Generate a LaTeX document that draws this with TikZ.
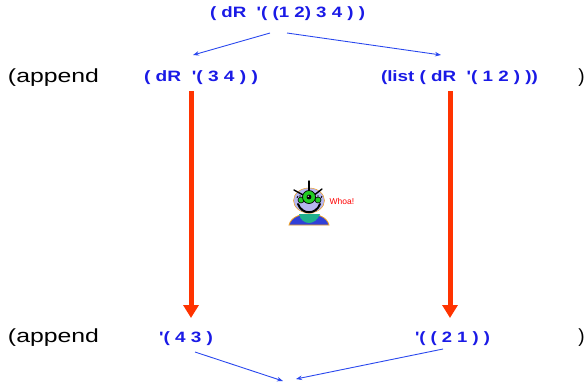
\documentclass[tikz,border=0pt]{standalone}
\usepackage{fontspec}
\setmainfont{Liberation Sans}
\usetikzlibrary{arrows.meta}
\definecolor{codeblue}{HTML}{1A1AE6}
\definecolor{linkblue}{HTML}{2A48EE}
\definecolor{evalred}{HTML}{FF3300}
\definecolor{headlav}{HTML}{B6B6F0}
\definecolor{bodyblue}{HTML}{3040D8}
\definecolor{collar}{HTML}{20B08C}
\definecolor{eyegreen}{HTML}{22CC22}
\definecolor{rim}{HTML}{F0A020}
\newcommand{\fitw}[2]{\resizebox{#1}{\height}{#2}}
\newcommand{\qt}{\textquotesingle}
\begin{document}
\begin{tikzpicture}[x=1pt,y=-1pt,
  code/.style={text=codeblue,font=\bfseries\fontsize{15}{15}\selectfont,inner sep=0pt},
  plain/.style={text=black,font=\fontsize{19}{19}\selectfont,inner sep=0pt},
  link/.style={draw=linkblue,line width=0.9pt,-{Stealth[length=6pt,width=4.5pt]}},
  evalarrow/.style={draw=evalred,line width=5pt,-{Triangle[length=13pt,width=15pt]}},
  exclaim/.style={text=red,font=\fontsize{8.5}{8.5}\selectfont,inner sep=0pt}]
\useasboundingbox (0,0) rectangle (588,384);

% expression rows
\node[code] (top) at (287.5,14) {\fitw{155pt}{( dR \ \qt( (1 2) 3 4 ) )}};

\node[plain] (app1) at (53.5,78) {\fitw{91pt}{(append}};
\node[code] (cdr34) at (201,78) {\fitw{114pt}{( dR \ \qt( 3 4 ) )}};
\node[code] (list12) at (459.5,78) {\fitw{157pt}{(list ( dR \ \qt( 1 2 ) ))}};
\node[plain] (close1) at (581.5,78) {)};

\node[plain] (app2) at (53.5,338) {\fitw{91pt}{(append}};
\node[code] (r43) at (186,339) {\fitw{54pt}{\qt( 4 3 )}};
\node[code] (r21) at (452.5,339) {\fitw{75pt}{\qt( ( 2 1 ) )}};
\node[plain] (close2) at (581.5,338) {)};

% connector end points
\coordinate (splitL) at (270,33);
\coordinate (splitR) at (287,33);
\coordinate (intoL) at (193,55);
\coordinate (intoR) at (441,55);
\coordinate (evalLa) at (191,91);
\coordinate (evalLb) at (191,318);
\coordinate (evalRa) at (450,91);
\coordinate (evalRb) at (450,318);
\coordinate (outL) at (195,352);
\coordinate (outR) at (443,349);
\coordinate (joinL) at (283,381);
\coordinate (joinR) at (296,379);

\draw[link] (splitL) -- (intoL);
\draw[link] (splitR) -- (intoR);
\draw[evalarrow] (evalLa) -- (evalLb);
\draw[evalarrow] (evalRa) -- (evalRb);
\draw[link] (outL) -- (joinL);
\draw[link] (outR) -- (joinR);

% little cartoon character
\begin{scope}[shift={(309,203)}]
  \fill[bodyblue,draw=rim,line width=0.8pt] (-20,22) .. controls (-18,14) and (-9,11) .. (0,11)
        .. controls (9,11) and (18,14) .. (20,22) -- cycle;
  \fill[collar] (-10,11) -- (11,11) .. controls (9,17) and (4,20) .. (0,20)
        .. controls (-4,20) and (-9,17) .. (-10,11) -- cycle;
  \fill[headlav,draw=rim,line width=0.5pt] (0,-2.5) ellipse [x radius=15.5, y radius=12.5];
  \draw[line width=1.4pt,line cap=round] (-15,-13) -- (-4,-7);
  \draw[line width=1.4pt,line cap=round] (0,-22) -- (0,-9);
  \draw[line width=1.4pt,line cap=round] (13,-14) -- (4,-7);
  \draw[line width=2pt,line cap=round] (-11,1) .. controls (-7,12) and (7,12) .. (11,1);
  \fill[eyegreen,draw=black,line width=0.6pt] (-8,-3) circle [radius=3];
  \fill[eyegreen,draw=black,line width=0.6pt] (9,-3) circle [radius=3];
  \draw[line width=0.8pt] (-12,-5) -- (-11,-7) (-9,-6) -- (-9,-8) (-6,-5) -- (-5,-7);
  \draw[line width=0.8pt] (6,-5) -- (5,-7) (9,-6) -- (9,-8) (12,-5) -- (13,-7);
  \fill[eyegreen,draw=black,line width=0.7pt] (0,-6) circle [radius=6.5];
  \fill[black] (0,-6) circle [radius=2.4];
  \fill[white] (-0.8,-6.8) circle [radius=0.7];
\end{scope}
\node[exclaim] (whoa) at (342,201) {Whoa!};
\end{tikzpicture}
\end{document}
